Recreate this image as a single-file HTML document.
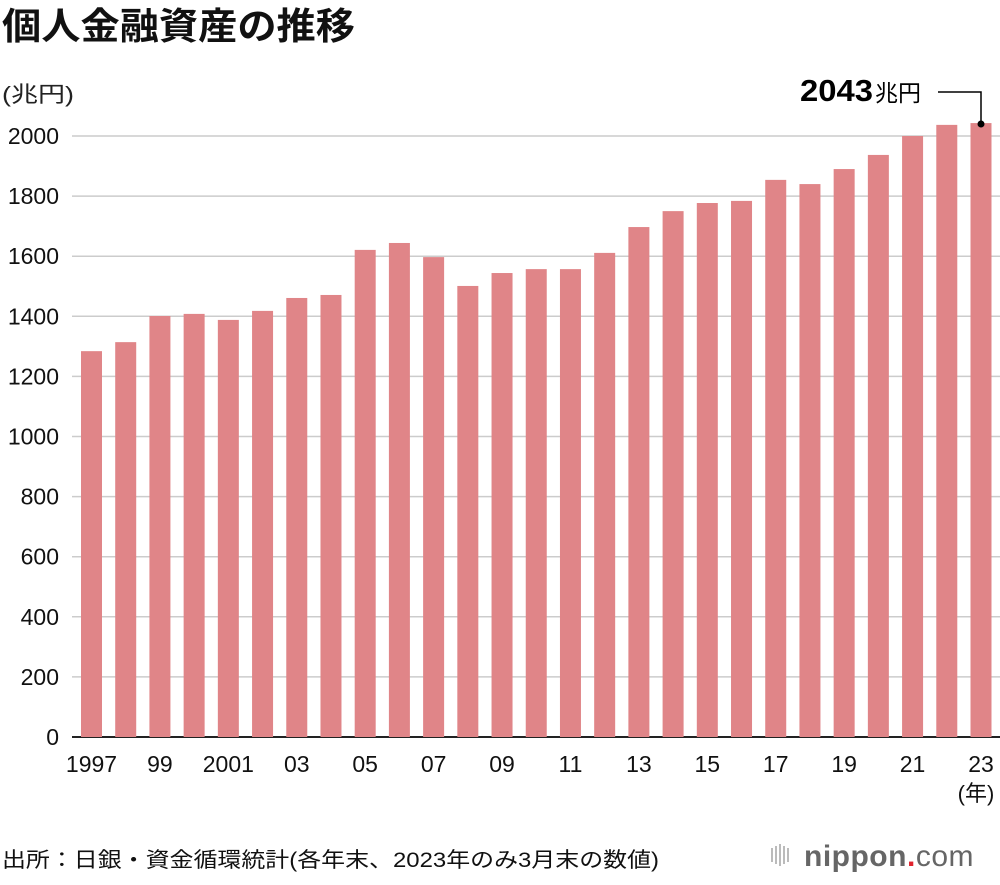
<!DOCTYPE html>
<html><head><meta charset="utf-8"><style>
body{margin:0;background:#fff;}
svg text{font-family:"Liberation Sans","Noto Sans CJK JP",sans-serif;}
</style></head><body>
<svg width="1000" height="880" viewBox="0 0 1000 880">
<text x="2" y="39" font-size="37" font-weight="bold" fill="#111" textLength="353" lengthAdjust="spacingAndGlyphs">個人金融資産の推移</text>
<text x="2" y="102" font-size="22" fill="#222" textLength="72" lengthAdjust="spacingAndGlyphs">(兆円)</text>
<g id="grid"></g>
<g id="bars"></g>
<g id="xlabels"></g>
<text x="976" y="801" font-size="22" text-anchor="middle" fill="#111">(年)</text>
<text x="800" y="101" font-size="31" font-weight="bold" fill="#000"><tspan textLength="73" lengthAdjust="spacingAndGlyphs">2043</tspan><tspan font-size="23" font-weight="normal" dx="2">兆円</tspan></text>
<polyline points="938,92 981,92 981,124" fill="none" stroke="#000" stroke-width="1.5"/>
<circle cx="981" cy="124" r="3.5" fill="#000"/>
<text x="2" y="867" font-size="21" fill="#111" textLength="657" lengthAdjust="spacingAndGlyphs">出所：日銀・資金循環統計(各年末、2023年のみ3月末の数値)</text>
<g>
<g fill="#bbb"><rect x="771" y="848" width="2" height="14"/><rect x="775" y="846" width="2" height="18"/><rect x="779" y="844" width="2" height="22"/><rect x="783" y="846" width="2" height="18"/><rect x="787" y="848" width="2" height="14"/></g>
<text x="804" y="866" font-size="30" fill="#666" font-weight="bold" letter-spacing="0.5">nippon<tspan fill="#e0232d">.</tspan><tspan font-weight="normal">com</tspan></text>
</g>
</svg>
<script>
const years=[1997,1998,1999,2000,2001,2002,2003,2004,2005,2006,2007,2008,2009,2010,2011,2012,2013,2014,2015,2016,2017,2018,2019,2020,2021,2022,2023];
const values=[1284,1314,1401,1408,1388,1418,1461,1471,1621,1644,1597,1501,1544,1557,1557,1611,1697,1750,1777,1784,1854,1840,1890,1937,2000,2037,2043];
const yTicks=[0,200,400,600,800,1000,1200,1400,1600,1800,2000];
const xTickLabels=["1997","","99","","2001","","03","","05","","07","","09","","11","","13","","15","","17","","19","","21","","23"];
const NS="http://www.w3.org/2000/svg";
const y0=737,pxPer=300.5/1000;
const yScale=v=>y0-v*pxPer;
const x0=91.5,step=(981-91.5)/26,bw=21;
const xScale=i=>x0+i*step;
const grid=document.getElementById('grid');
yTicks.forEach(t=>{
  const l=document.createElementNS(NS,'line');
  l.setAttribute('x1',72);l.setAttribute('x2',1000);
  l.setAttribute('y1',yScale(t));l.setAttribute('y2',yScale(t));
  l.setAttribute('stroke',t===0?'#222':'#ccc');l.setAttribute('stroke-width',t===0?2:1.5);
  
  
  grid.appendChild(l);
  const tx=document.createElementNS(NS,'text');
  tx.setAttribute('x',59);tx.setAttribute('y',yScale(t)+8);
  tx.setAttribute('text-anchor','end');tx.setAttribute('font-size','23');tx.setAttribute('fill','#111');
  tx.textContent=t;
  
  
  grid.appendChild(tx);
});
const bars=document.getElementById('bars');
const xl=document.getElementById('xlabels');
values.forEach((v,i)=>{
  const r=document.createElementNS(NS,'rect');
  r.setAttribute('x',xScale(i)-bw/2);r.setAttribute('width',bw);
  r.setAttribute('y',yScale(v));r.setAttribute('height',y0-yScale(v));
  r.setAttribute('fill','#e08588');
  
  
  bars.appendChild(r);
  if(xTickLabels[i]){
    const t=document.createElementNS(NS,'text');
    t.setAttribute('x',xScale(i));t.setAttribute('y',772);
    t.setAttribute('text-anchor','middle');t.setAttribute('font-size','23');t.setAttribute('fill','#111');
    t.textContent=xTickLabels[i];
    
    
    xl.appendChild(t);
  }
});
</script>
</body></html>
